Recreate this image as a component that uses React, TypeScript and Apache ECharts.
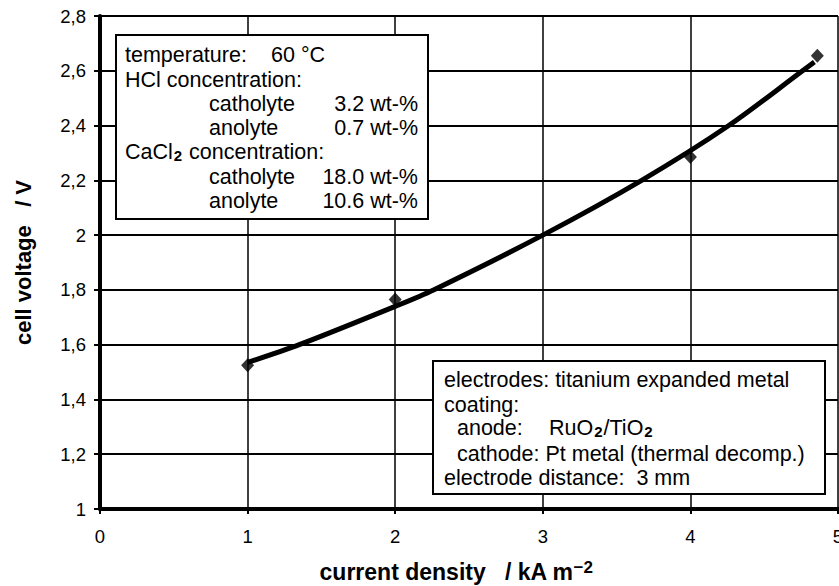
import React, { useEffect, useRef } from 'react';
import * as echarts from 'echarts';

// ---- data ----
const measuredDensity = [1, 2, 4, 4.86];
const measuredVoltage = [1.525, 1.765, 2.285, 2.655];
const fitDensity = [1, 1.35, 2, 2.26, 3, 3.67, 4.26, 4.76, 4.84];
const fitVoltage = [1.535, 1.6, 1.74, 1.8, 2.0, 2.2, 2.4, 2.6, 2.632];

const xMin = 0, xMax = 5, xStep = 1;
const yMin = 1, yMax = 2.8, yStep = 0.2;

const xTitle = '{b|current density   / kA m}{sup|\u22122}';
const yTitle = 'cell voltage   / V';

const conditionLabels = ['temperature:', 'HCl concentration:', 'catholyte', 'anolyte', 'CaCl{sub|2} concentration:', 'catholyte', 'anolyte'];
const conditionIndent = [0, 0, 1, 1, 0, 1, 1];
const conditionValues = ['60 \u00b0C', '', '3.2 wt-%', '0.7 wt-%', '', '18.0 wt-%', '10.6 wt-%'];

const electrodeLabels = ['electrodes: titanium expanded metal', 'coating:', 'anode:', 'cathode: Pt metal (thermal decomp.)', 'electrode distance:  3 mm'];
const electrodeIndent = [0, 0, 1, 1, 0];
const electrodeValues = ['', '', 'RuO{sub|2}/TiO{sub|2}', '', ''];

const FONT = '"Liberation Sans", Arial, Helvetica, sans-serif';
const BOX_FS = 21.5;

const richSub = {
  sub: { fontSize: 15, fontWeight: 'bold', fontFamily: FONT, lineHeight: 9, verticalAlign: 'bottom', fill: '#000', color: '#000', padding: [0, 1, 0, 1] },
};

function txt(x: number, y: number, text: string, align: string = 'left') {
  return {
    type: 'text',
    x,
    y,
    z: 20,
    silent: true,
    style: {
      text,
      fill: '#000',
      fontSize: BOX_FS,
      fontFamily: FONT,
      lineHeight: 22,
      align,
      textAlign: align,
      verticalAlign: 'middle',
      textVerticalAlign: 'middle',
      rich: richSub,
    },
  };
}

export default function App() {
  const ref = useRef<HTMLDivElement>(null);
  useEffect(() => {
    document.body.style.margin = '0';
    if (!ref.current) return;
    const chart = echarts.init(ref.current, undefined, { renderer: 'svg', width: 839, height: 586 });

    const graphics: any[] = [];
    // box 1
    graphics.push({
      type: 'rect', z: 15, silent: true,
      shape: { x: 116, y: 35, width: 312, height: 184 },
      style: { fill: '#fff', stroke: '#000', lineWidth: 2 },
    });
    const y1 = [55, 80, 104, 128, 152, 177, 201];
    conditionLabels.forEach((l, i) => {
      graphics.push(txt(conditionIndent[i] ? 209 : 125, y1[i], l));
      if (conditionValues[i]) {
        if (i === 0) graphics.push(txt(271, y1[i], conditionValues[i]));
        else graphics.push(txt(418, y1[i], conditionValues[i], 'right'));
      }
    });
    // box 2
    graphics.push({
      type: 'rect', z: 15, silent: true,
      shape: { x: 433, y: 361, width: 392, height: 133 },
      style: { fill: '#fff', stroke: '#000', lineWidth: 2 },
    });
    const y2 = [380, 405, 428, 454, 478];
    electrodeLabels.forEach((l, i) => {
      graphics.push(txt(electrodeIndent[i] ? 457 : 444, y2[i], l));
      if (electrodeValues[i]) graphics.push(txt(549, y2[i], electrodeValues[i]));
    });

    const option: any = {
      animation: false,
      backgroundColor: '#fff',
      grid: { left: 100, right: 1, top: 16, bottom: 77, containLabel: false, outerBoundsMode: 'none' },
      xAxis: {
        type: 'value',
        min: xMin, max: xMax, interval: xStep,
        name: xTitle,
        nameLocation: 'middle',
        nameGap: 50,
        nameTextStyle: {
          fontSize: 23, fontWeight: 'bold', fontFamily: FONT, color: '#000',
          padding: [0, 26, 0, 0],
          rich: {
            b: { fontSize: 23, fontWeight: 'bold', fontFamily: FONT, color: '#000', lineHeight: 26 },
            sup: { fontSize: 17, fontWeight: 'bold', fontFamily: FONT, color: '#000', lineHeight: 16, verticalAlign: 'top' },
          },
        },
        axisLine: { show: true, onZero: false, lineStyle: { color: '#000', width: 4 } },
        axisTick: { show: true, inside: false, length: 5, lineStyle: { color: '#000', width: 2 } },
        axisLabel: { color: '#000', fontSize: 18.5, fontFamily: FONT, margin: 18 },
        splitLine: { show: true, lineStyle: { color: '#000', width: 1.5 } },
      },
      yAxis: {
        type: 'value',
        min: yMin, max: yMax, interval: yStep,
        name: yTitle,
        nameLocation: 'middle',
        nameGap: 66,
        nameTextStyle: { fontSize: 22, fontWeight: 'bold', fontFamily: FONT, color: '#000' },
        axisLine: { show: true, onZero: false, lineStyle: { color: '#000', width: 4 } },
        axisTick: { show: true, inside: false, length: 6, lineStyle: { color: '#000', width: 2 } },
        axisLabel: {
          color: '#000', fontSize: 18.5, fontFamily: FONT, margin: 14,
          formatter: (v: number) => String(Math.round(v * 10) / 10).replace('.', ','),
        },
        splitLine: { show: true, lineStyle: { color: '#000', width: 2 } },
      },
      series: [
        {
          type: 'line',
          name: 'fit',
          data: fitDensity.map((x, i) => [x, fitVoltage[i]]),
          smooth: 0.3,
          showSymbol: false,
          symbol: 'none',
          lineStyle: { color: '#000', width: 5 },
          z: 3,
        },
        {
          type: 'scatter',
          name: 'measured',
          data: measuredDensity.map((x, i) => [x, measuredVoltage[i]]),
          symbol: 'diamond',
          symbolSize: [13, 14],
          itemStyle: { color: '#000' },
          z: 4,
        },
      ],
      graphic: graphics,
    };
    chart.setOption(option);
    return () => chart.dispose();
  }, []);
  return (
    <div
      ref={ref}
      style={{ position: 'fixed', left: 0, top: 0, width: 839, height: 586, overflow: 'hidden', background: '#fff' }}
    />
  );
}
